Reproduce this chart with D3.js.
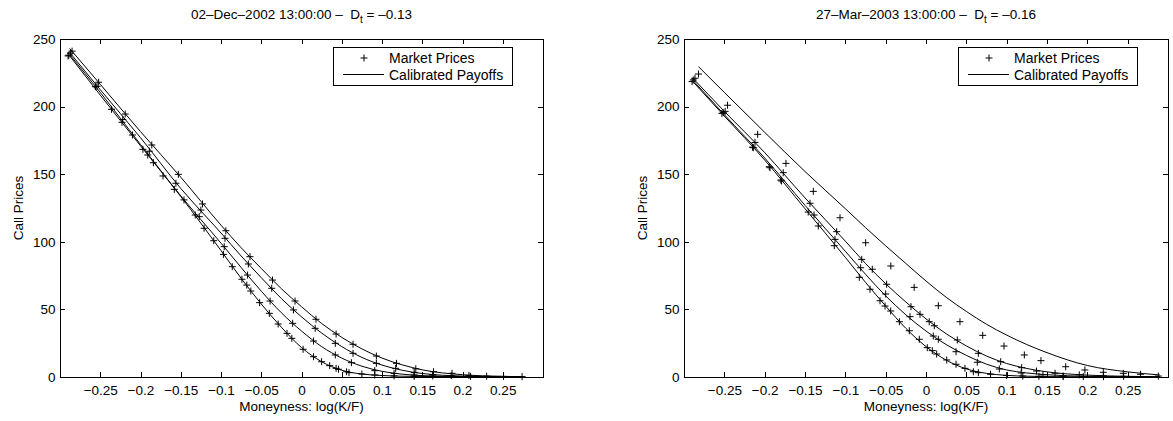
<!DOCTYPE html>
<html>
<head>
<meta charset="utf-8">
<script src="https://cdn.jsdelivr.net/npm/d3@7"></script>
<style>
  body { margin: 0; background: #fff; }
  svg { display: block; font-family: "Liberation Sans", Arial, Helvetica, sans-serif; }
</style>
</head>
<body>
<svg id="chart" width="1173" height="421"></svg>
<script>
// Оси и подписи
const xLimits = [-0.3, 0.3];
const yLimits = [0, 250];
const xTicks = [-0.25, -0.2, -0.15, -0.1, -0.05, 0, 0.05, 0.1, 0.15, 0.2, 0.25];
const yTicks = [0, 50, 100, 150, 200, 250];
const xLabel = "Moneyness: log(K/F)";
const yLabel = "Call Prices";
const legendLabels = ["Market Prices", "Calibrated Payoffs"];
const decTitle = ["02–Dec–2002 13:00:00 –  D", "t", " = –0.13"];
const marTitle = ["27–Mar–2003 13:00:00 –  D", "t", " = –0.16"];

// 02-Dec-2002: рыночные цены (4 срока)
const decA_x = [-0.285, -0.252, -0.219, -0.186, -0.153, -0.123, -0.094, -0.064, -0.036, -0.008, 0.018, 0.043, 0.064, 0.093, 0.118, 0.142, 0.164, 0.187, 0.208, 0.23, 0.251, 0.274];
const decA_y = [241, 218, 194.5, 171.6, 149.9, 128, 108.2, 89, 71.7, 56.2, 42.7, 31.8, 24.2, 15.5, 10.1, 6.1, 3.9, 2.7, 1.2, 0.6, 0.4, 0.3];
const decB_x = [-0.287, -0.254, -0.222, -0.189, -0.156, -0.125, -0.095, -0.066, -0.037, -0.010, 0.017, 0.042, 0.064, 0.093, 0.117, 0.140, 0.163, 0.186, 0.21];
const decB_y = [239.5, 215, 190.5, 167, 143.3, 123.5, 102.6, 83.6, 65.6, 49.6, 36, 24.9, 17.5, 10.1, 6.4, 3.2, 1.8, 1.0, 0.5];
const decC_x = [-0.289, -0.256, -0.223, -0.191, -0.158, -0.127, -0.096, -0.067, -0.039, -0.011, 0.015, 0.042, 0.062, 0.091, 0.115, 0.140, 0.163];
const decC_y = [238, 214.7, 188.4, 164.2, 138.8, 118.6, 96.4, 75.4, 56.2, 39.7, 26.6, 16.3, 10.6, 4.7, 2.7, 1.5, 0.8];
const decD_x = [-0.29, -0.236, -0.21, -0.197, -0.184, -0.172, -0.146, -0.132, -0.121, -0.109, -0.097, -0.086, -0.074, -0.068, -0.063, -0.052, -0.040, -0.029, -0.018, -0.012, 0.002, 0.015, 0.025, 0.035, 0.043, 0.046, 0.056, 0.059, 0.075, 0.091, 0.115, 0.14];
const decD_y = [237.5, 198, 179, 168.4, 158.5, 148.7, 131, 119.8, 110, 100.8, 90.7, 81.6, 72.3, 68, 63.6, 55, 47.1, 39.2, 32.3, 28.6, 20.5, 15, 11.3, 8.4, 6.4, 5.7, 3.9, 3.2, 2.2, 1.5, 0.8, 0.5];

// 02-Dec-2002: откалиброванные кривые
const decFit_x = [-0.288, -0.25, -0.2, -0.15, -0.1, -0.075, -0.05, -0.025, 0, 0.025, 0.05, 0.075, 0.1, 0.125, 0.15, 0.2, 0.25, 0.275];
const decFitA = [243, 216.5, 181.5, 147.8, 112.3, 95.6, 80.3, 65.3, 52, 39.6, 29.3, 20.8, 14, 9, 5.3, 1.7, 0.5, 0.2];
const decFitB = [240, 212.5, 177, 139.5, 106.5, 89.5, 73.5, 58, 44.5, 32.5, 22.5, 14.5, 8.8, 5, 2.6, 0.7, 0.2, 0.1];
const decFitC = [238.5, 210.5, 172, 134, 99, 81, 63.5, 47.5, 34, 22.5, 14, 8, 4.2, 2.1, 1, 0.3, 0.1, 0.05];
const decFitD = [237.5, 208.5, 171, 133.5, 93.5, 73, 54, 36.8, 21.8, 11.3, 5, 2.2, 1.1, 0.6, 0.4, 0.2, 0.1, 0.05];

// 27-Mar-2003: рыночные цены
const marA_x = [-0.282, -0.246, -0.2087, -0.1736, -0.1397, -0.1066, -0.0748, -0.0436, -0.0147, 0.0153, 0.0421, 0.0703, 0.0967, 0.1219, 0.1425, 0.1732, 0.197, 0.2198, 0.2446, 0.266, 0.288];
const marA_y = [224.1, 201, 179.5, 158, 137.3, 117.8, 99.3, 82.1, 66.3, 52.7, 40.9, 30.8, 22.9, 16.3, 12.1, 7.6, 5.2, 3.5, 2.7, 2, 0.7];
const marB_x = [-0.2864, -0.249, -0.212, -0.177, -0.1438, -0.1107, -0.0797, -0.0666, -0.0488, -0.0186, -0.0074, 0.004, 0.0103, 0.0388, 0.0649, 0.0926, 0.1186, 0.137, 0.16, 0.19, 0.22, 0.245];
const marB_y = [221, 196.5, 173.5, 151.1, 128.5, 107.5, 87, 79.7, 68.6, 52, 46.4, 40.9, 37.9, 27.4, 17.5, 11.3, 6.9, 4.4, 2.8, 1.6, 0.9, 0.5];
const marC_x = [-0.2885, -0.253, -0.215, -0.1943, -0.18, -0.1388, -0.1128, -0.081, -0.05, -0.0198, 0.009, 0.0153, 0.0372, 0.0636, 0.0909, 0.118, 0.145, 0.17];
const marC_y = [219.7, 195, 170, 155.5, 145.7, 119.8, 101.8, 80.8, 61.4, 44.6, 30.3, 27.9, 18.7, 10.9, 5.9, 3, 1.6, 0.8];
const marD_x = [-0.29, -0.2513, -0.214, -0.1934, -0.179, -0.146, -0.1335, -0.1137, -0.0827, -0.0694, -0.057, -0.0508, -0.0438, -0.033, -0.0207, -0.0083, 0.0016, 0.0078, 0.0132, 0.0257, 0.0372, 0.0483, 0.0587, 0.0649, 0.08, 0.1, 0.12, 0.14, 0.17, 0.195, 0.22];
const marD_y = [218.5, 195.5, 169.6, 154.8, 145, 122, 111.7, 97.1, 73.7, 64.9, 56.4, 52.5, 48.8, 40.9, 34.2, 27.9, 21.7, 19.5, 17, 12.6, 9.4, 6.4, 3.9, 3.2, 2, 1.1, 0.7, 0.5, 0.3, 0.3, 0.2];

// 27-Mar-2003: откалиброванные кривые
const marFitA_x = [-0.282, -0.25, -0.2, -0.15, -0.1, -0.075, -0.05, -0.025, 0, 0.025, 0.05, 0.075, 0.1, 0.125, 0.15, 0.2, 0.25, 0.29];
const marFitA = [229.5, 210.5, 181, 152, 124.5, 110.5, 97, 84, 71, 59, 48.5, 39, 31, 24, 18, 8.5, 3.8, 1.5];
const marFit_x = [-0.289, -0.25, -0.2, -0.15, -0.1, -0.075, -0.05, -0.025, 0, 0.025, 0.05, 0.075, 0.1, 0.125, 0.15, 0.2, 0.25, 0.29];
const marFitB = [221, 196.5, 166, 132.5, 100.5, 84, 69, 55.5, 43, 32, 23, 15.5, 10, 6.3, 3.8, 1.4, 0.5, 0.2];
const marFitC = [219.5, 194, 162, 127, 93, 76, 60, 46, 34, 24, 16, 9.5, 5.2, 3, 1.7, 0.5, 0.2, 0.1];
const marFitD = [218.5, 193, 160.5, 124.5, 88.5, 70, 52.5, 36, 22.5, 12.5, 6, 2.7, 1.2, 0.6, 0.3, 0.1, 0.05, 0.02];

const svg = d3.select("#chart");
const plotTop = 39, plotBottom = 377;
const fontSize = 13.5;

function fmtTick(d) {
    if (d === 0) return "0";
    return (d < 0 ? "\u2212" : "") + Math.abs(d);
}

function drawPanel(left, right, title, markets, fits) {
    const x = d3.scaleLinear().domain(xLimits).range([left, right]);
    const y = d3.scaleLinear().domain(yLimits).range([plotBottom, plotTop]);
    const g = svg.append("g");

    // Рамка
    g.append("rect")
        .attr("x", left + 0.5).attr("y", plotTop + 0.5)
        .attr("width", right - left).attr("height", plotBottom - plotTop)
        .attr("fill", "none").attr("stroke", "#000").attr("stroke-width", 1)
        .attr("shape-rendering", "crispEdges");

    // Оси: засечки внутрь, как в MATLAB
    const bottomAx = g.append("g").attr("transform", `translate(0,${plotBottom})`)
        .call(d3.axisBottom(x).tickValues(xTicks).tickSizeInner(-5).tickSizeOuter(0).tickPadding(8).tickFormat(fmtTick));
    const topAx = g.append("g").attr("transform", `translate(0,${plotTop})`)
        .call(d3.axisTop(x).tickValues(xTicks).tickSizeInner(-5).tickSizeOuter(0).tickFormat(""));
    const leftAx = g.append("g").attr("transform", `translate(${left},0)`)
        .call(d3.axisLeft(y).tickValues(yTicks).tickSizeInner(-5).tickSizeOuter(0).tickPadding(4.5));
    const rightAx = g.append("g").attr("transform", `translate(${right},0)`)
        .call(d3.axisRight(y).tickValues(yTicks).tickSizeInner(-5).tickSizeOuter(0).tickFormat(""));

    [bottomAx, topAx, leftAx, rightAx].forEach(a => {
        a.select(".domain").remove();
        a.attr("font-family", null).attr("font-size", fontSize);
        a.selectAll("line").attr("stroke", "#000").attr("shape-rendering", "crispEdges");
        a.selectAll("text").attr("fill", "#000");
    });

    // Кривые модели
    const line = d3.line()
        .x(d => x(d[0]))
        .y(d => y(d[1]))
        .curve(d3.curveMonotoneX);
    fits.forEach(f => {
        g.append("path")
            .datum(d3.zip(f[0], f[1]))
            .attr("d", line)
            .attr("fill", "none")
            .attr("stroke", "#000")
            .attr("stroke-width", 1);
    });

    // Рыночные цены: маркеры "+"
    markets.forEach(m => {
        g.append("g").selectAll("path")
            .data(d3.zip(m[0], m[1]))
            .join("path")
            .attr("d", d => `M${x(d[0]) - 3.5},${y(d[1])}h7M${x(d[0])},${y(d[1]) - 3.5}v7`)
            .attr("fill", "none")
            .attr("stroke", "#000")
            .attr("stroke-width", 1);
    });

    const cx = (left + right) / 2;

    // Заголовок
    const t = g.append("text")
        .attr("x", cx).attr("y", 19)
        .attr("text-anchor", "middle")
        .attr("font-size", fontSize)
        .style("white-space", "pre");
    t.append("tspan").text(title[0]);
    t.append("tspan").attr("dy", 4).attr("font-size", 10).text(title[1]);
    t.append("tspan").attr("dy", -4).text(title[2]);

    // Подписи осей
    g.append("text")
        .attr("x", cx).attr("y", 411)
        .attr("text-anchor", "middle")
        .attr("font-size", fontSize)
        .text(xLabel);
    g.append("text")
        .attr("transform", `translate(${left - 37},${(plotTop + plotBottom) / 2}) rotate(-90)`)
        .attr("text-anchor", "middle")
        .attr("font-size", fontSize)
        .text(yLabel);

    // Легенда
    const lx = right - 31 - 179, ly = 47;
    const leg = g.append("g");
    leg.append("rect")
        .attr("x", lx + 0.5).attr("y", ly + 0.5)
        .attr("width", 179).attr("height", 38)
        .attr("fill", "#fff").attr("stroke", "#000")
        .attr("shape-rendering", "crispEdges");
    leg.append("path")
        .attr("d", `M${lx + 27.5},${ly + 11}h7M${lx + 31},${ly + 7.5}v7`)
        .attr("stroke", "#000").attr("fill", "none");
    leg.append("text")
        .attr("x", lx + 56).attr("y", ly + 16)
        .attr("font-size", 14)
        .text(legendLabels[0]);
    leg.append("line")
        .attr("x1", lx + 10).attr("x2", lx + 51)
        .attr("y1", ly + 27.5).attr("y2", ly + 27.5)
        .attr("stroke", "#000");
    leg.append("text")
        .attr("x", lx + 56).attr("y", ly + 32.5)
        .attr("font-size", 14)
        .text(legendLabels[1]);
}

drawPanel(60, 543, decTitle,
    [[decA_x, decA_y], [decB_x, decB_y], [decC_x, decC_y], [decD_x, decD_y]],
    [[decFit_x, decFitA], [decFit_x, decFitB], [decFit_x, decFitC], [decFit_x, decFitD]]);

drawPanel(684, 1168, marTitle,
    [[marA_x, marA_y], [marB_x, marB_y], [marC_x, marC_y], [marD_x, marD_y]],
    [[marFitA_x, marFitA], [marFit_x, marFitB], [marFit_x, marFitC], [marFit_x, marFitD]]);
</script>
</body>
</html>
